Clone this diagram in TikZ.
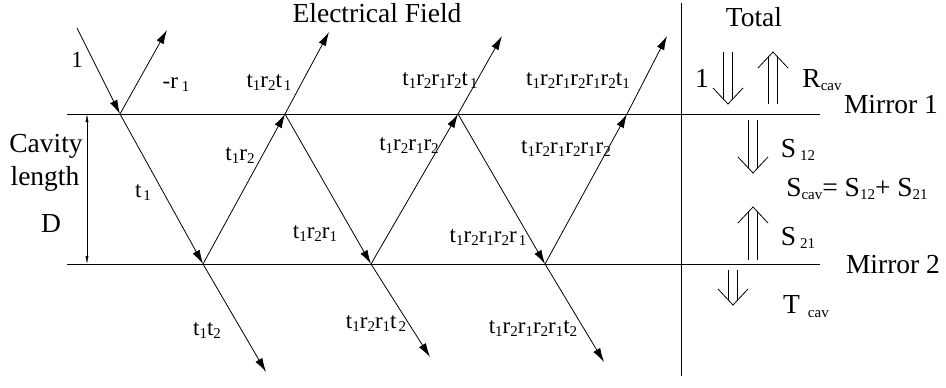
\documentclass[tikz,border=0pt]{standalone}
\usepackage{fontspec}
\setmainfont{Liberation Serif}
\usetikzlibrary{arrows.meta}
\newcommand{\lsb}[1]{\raisebox{-3pt}{\fontsize{15}{15}\selectfont #1}}
\newcommand{\dnarr}[3]{%
  \draw (#1-4.5,#2) -- (#1-4.5,#3-5) (#1+4.5,#2) -- (#1+4.5,#3-5);
  \draw (#1-15,#3-16) -- (#1,#3) -- (#1+15,#3-16);}
\newcommand{\uparr}[3]{%
  \draw (#1-4.5,#2) -- (#1-4.5,#3+5) (#1+4.5,#2) -- (#1+4.5,#3+5);
  \draw (#1-15,#3+16) -- (#1,#3) -- (#1+15,#3+16);}
\begin{document}
\begin{tikzpicture}[x=1pt,y=-1pt,line width=0.8pt,
  ray/.style={-{Latex[length=14pt,width=8pt]}},
  cav/.style={{Latex[length=8pt,width=3pt]}-{Latex[length=8pt,width=3pt]},line width=0.5pt},
  big/.style={font=\fontsize{27.5}{32}\selectfont,inner sep=0pt,anchor=base},
  lbl/.style={font=\fontsize{23}{27}\selectfont,inner sep=0pt,anchor=base}]
\useasboundingbox (0,0) rectangle (946,388);
% mirrors and divider
\coordinate (m1l) at (67,114);  \coordinate (m1r) at (820,114);
\coordinate (m2l) at (67,264);  \coordinate (m2r) at (820,264);
\coordinate (dvt) at (681,3);   \coordinate (dvb) at (681,376);
\draw (m1l) -- (m1r);
\draw (m2l) -- (m2r);
\draw (dvt) -- (dvb);
% cavity length
\coordinate (cvt) at (87,114); \coordinate (cvb) at (87,264);
\draw[cav] (cvt) -- (cvb);
% reflection points
\coordinate (A1) at (120,114); \coordinate (A2) at (285,114);
\coordinate (A3) at (458,114); \coordinate (A4) at (627,114);
\coordinate (B1) at (203,264); \coordinate (B2) at (371,264);
\coordinate (B3) at (545,264);
% free ends
\coordinate (in) at (77,28);   \coordinate (r1) at (167,30);
\coordinate (o1) at (329,32);  \coordinate (o2) at (502,36);
\coordinate (o3) at (667,36);
\coordinate (t1) at (266,372); \coordinate (t2) at (430,357);
\coordinate (t3) at (604,362);
% rays
\draw[ray] (in) -- (A1);
\draw[ray] (A1) -- (r1);
\draw[ray] (A1) -- (B1);
\draw[ray] (B1) -- (t1);
\draw[ray] (B1) -- (A2);
\draw[ray] (A2) -- (o1);
\draw[ray] (A2) -- (B2);
\draw[ray] (B2) -- (t2);
\draw[ray] (B2) -- (A3);
\draw[ray] (A3) -- (o2);
\draw[ray] (A3) -- (B3);
\draw[ray] (B3) -- (t3);
\draw[ray] (B3) -- (A4);
\draw[ray] (A4) -- (o3);
% right side double arrows
\dnarr{728}{52}{104}
\uparr{773}{104}{52}
\dnarr{753}{120}{173}
\uparr{753}{260}{207}
\dnarr{733}{270}{305}
% big texts
\node[big] (title) at (377,22) {Electrical Field};
\node[big] (total) at (754,27) {Total};
\node[big] (one) at (702,87) {1};
\node[big] (rcav) at (822,87) {R\lsb{cav}};
\node[big] (mir1) at (891,113) {Mirror 1};
\node[big] (mir2) at (893,273) {Mirror 2};
\node[big] (s12) at (798,157) {S\hspace{4pt}\lsb{12}};
\node[big] (scav) at (857,196) {S\lsb{cav}= S\lsb{12}+ S\lsb{21}};
\node[big] (s21) at (798,245) {S\hspace{4pt}\lsb{21}};
\node[big] (tcav) at (806,313) {T\hspace{8pt}\raisebox{-4pt}{\fontsize{15}{15}\selectfont cav}};
\node[big] (cavity) at (46,152) {Cavity};
\node[big] (length) at (45,185) {length};
\node[big] (D) at (51,232) {D};
% ray labels
\node[lbl] (l1) at (77,67) {1};
\node[lbl] (lr1) at (176,88) {-r\hspace{4pt}\lsb{1}};
\node[lbl] (la) at (269,87) {t\lsb{1}r\lsb{2}t\hspace{2pt}\lsb{1}};
\node[lbl] (lb) at (440,85) {t\lsb{1}r\lsb{2}r\lsb{1}r\lsb{2}t\hspace{2pt}\lsb{1}};
\node[lbl] (lc) at (578,85) {t\lsb{1}r\lsb{2}r\lsb{1}r\lsb{2}r\lsb{1}r\lsb{2}t\lsb{1}};
\node[lbl] (ld) at (240,160) {t\lsb{1}r\lsb{2}};
\node[lbl] (le) at (409,150) {t\lsb{1}r\lsb{2}r\lsb{1}r\lsb{2}};
\node[lbl] (lf) at (566,153) {t\lsb{1}r\lsb{2}r\lsb{1}r\lsb{2}r\lsb{1}r\lsb{2}};
\node[lbl] (lg) at (143,197) {t\hspace{2pt}\lsb{1}};
\node[lbl] (lh) at (315,238) {t\lsb{1}r\lsb{2}r\lsb{1}};
\node[lbl] (li) at (488,242) {t\lsb{1}r\lsb{2}r\lsb{1}r\lsb{2}r\hspace{2pt}\lsb{1}};
\node[lbl] (lj) at (207,335) {t\lsb{1}t\lsb{2}};
\node[lbl] (lk) at (376,328) {t\lsb{1}r\lsb{2}r\lsb{1}t\hspace{2pt}\lsb{2}};
\node[lbl] (ll) at (533,333) {t\lsb{1}r\lsb{2}r\lsb{1}r\lsb{2}r\lsb{1}t\lsb{2}};
\end{tikzpicture}
\end{document}
